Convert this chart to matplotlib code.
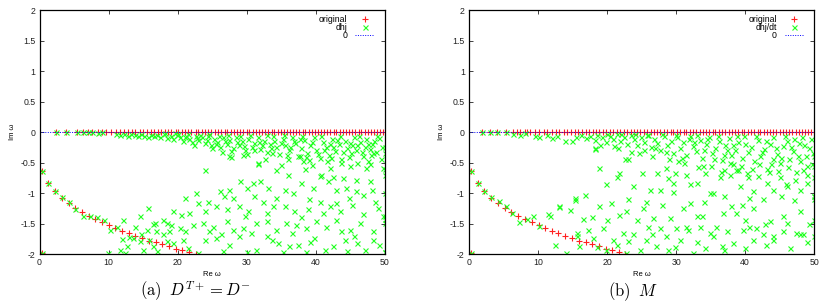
import numpy as np
import matplotlib
matplotlib.use("Agg")
from matplotlib import pyplot as plt

plt.rcParams['font.family'] = ['Liberation Sans', 'DejaVu Sans']
plt.rcParams['mathtext.fontset'] = 'cm'

# ---------------- data ----------------
# "original": eigenvalues on the real axis (x values, y = 0)
orig_real_a = [2.4, 3.9, 5.4, 6.3, 7.0, 7.6, 8.5, 9.0, 9.7, 10.4, 11.1, 11.6, 12.3, 12.8,
               13.4, 13.9, 14.6, 15.0, 15.5, 16.1, 16.6, 17.1, 17.6, 18.2, 18.6, 19.1,
               19.7, 20.1, 20.6, 21.1, 21.5, 22.0, 22.6, 23.0, 23.5, 24.0, 24.4, 24.9,
               25.4, 25.8, 26.3, 26.8, 27.2, 27.7, 28.1, 28.6, 29.0, 29.5, 30.0, 30.4,
               30.9, 31.3, 31.8, 32.2, 32.7, 33.1, 33.6, 34.0, 34.5, 34.9, 35.4, 35.8,
               36.3, 36.7, 37.2, 37.6, 38.1, 38.5, 39.0, 39.4, 39.9, 40.3, 40.8, 41.2,
               41.7, 42.1, 42.6, 43.0, 43.5, 43.9, 44.4, 44.8, 45.3, 45.7, 46.2, 46.6,
               47.1, 47.5, 48.0, 48.4, 48.9, 49.3, 49.8]
orig_real_b = [1.9, 3.1, 4.1, 5.4, 6.4, 6.9, 7.4, 8.1, 8.4, 8.9, 9.6, 10.1, 10.8, 11.3,
               12.0, 12.6, 13.1, 13.7, 14.2, 14.8, 15.3, 15.8, 16.4, 16.9, 17.4, 17.9,
               18.4, 18.9, 19.4, 19.9, 20.4, 20.9, 21.4, 21.9, 22.4, 22.9, 23.4, 23.9,
               24.4, 24.8, 25.3, 25.8, 26.3, 26.8, 27.3, 27.7, 28.2, 28.7, 29.2, 29.6,
               30.1, 30.6, 31.1, 31.5, 32.0, 32.5, 32.9, 33.4, 33.9, 34.3, 34.8, 35.3,
               35.7, 36.2, 36.7, 37.1, 37.6, 38.1, 38.5, 39.0, 39.5, 39.9, 40.4, 40.8,
               41.3, 41.8, 42.2, 42.7, 43.2, 43.6, 44.1, 44.5, 45.0, 45.5, 45.9, 46.4,
               46.8, 47.3, 47.8, 48.2, 48.7, 49.1, 49.6]
# "original": damped branch
orig_curve_x = [0.3, 1.3, 2.2, 3.2, 4.2, 5.2, 6.1, 7.1, 8.1, 9.1, 10.1, 11.0, 12.0,
                12.9, 13.9, 14.9, 15.9, 16.9, 17.8, 18.8, 19.8, 20.7, 21.7, 22.6, 0.3]
orig_curve_y = [-0.64, -0.84, -0.97, -1.08, -1.16, -1.24, -1.31, -1.37, -1.42, -1.48,
                -1.53, -1.58, -1.62, -1.66, -1.70, -1.74, -1.78, -1.81, -1.84, -1.87,
                -1.91, -1.94, -1.97, -2.00, -1.98]

# "dhj" (panel a) as (Re, Im) pairs
dhj_a_curve = [(0.3, -0.64), (1.3, -0.84), (2.2, -0.97), (3.2, -1.07), (4.2, -1.15),
               (5.2, -1.26), (6.3, -1.38), (7.3, -1.37), (8.3, -1.39), (9.3, -1.45),
               (10.2, -1.61), (11.2, -1.55), (0.3, -1.98), (9.9, -1.98)]
dhj_a_band = [(2.4, 0.0), (3.9, 0.0), (5.4, 0.0), (6.3, 0.0), (7.0, 0.0), (7.6, 0.0),
              (8.5, -0.01), (9.0, 0.0), (11.1, -0.03), (11.6, -0.05), (12.3, -0.04),
              (12.8, -0.06), (13.3, -0.03), (13.8, -0.05), (14.2, -0.07), (14.7, -0.04),
              (15.2, -0.06), (15.7, -0.08), (16.2, -0.05), (16.6, -0.07), (17.0, -0.05),
              (17.5, -0.08), (18.0, -0.04), (18.5, -0.10), (19.0, -0.06), (19.4, -0.12),
              (19.9, -0.05), (20.3, -0.09), (20.8, -0.14), (21.2, -0.07), (21.7, -0.11),
              (22.1, -0.16), (22.6, -0.06), (23.0, -0.13), (23.5, -0.09), (23.9, -0.18),
              (24.4, -0.07), (24.8, -0.22), (25.3, -0.12), (25.7, -0.16), (26.2, -0.25),
              (26.6, -0.09), (27.1, -0.19), (27.5, -0.13), (28.0, -0.27), (28.4, -0.08),
              (28.9, -0.21), (29.3, -0.15), (29.8, -0.30), (30.2, -0.11), (30.7, -0.24),
              (31.1, -0.18), (31.6, -0.09), (32.0, -0.28), (32.5, -0.14), (32.9, -0.33),
              (33.4, -0.20), (33.8, -0.07), (34.3, -0.25), (34.7, -0.36), (35.2, -0.12),
              (35.6, -0.22), (36.1, -0.30), (36.5, -0.08), (37.0, -0.18), (37.4, -0.40),
              (37.9, -0.26), (38.3, -0.13), (38.8, -0.34), (39.2, -0.21), (39.7, -0.09),
              (40.1, -0.29), (40.6, -0.42), (41.0, -0.16), (41.5, -0.24), (41.9, -0.37),
              (42.4, -0.11), (42.8, -0.31), (43.3, -0.20), (43.7, -0.45), (44.2, -0.14),
              (44.6, -0.27), (45.1, -0.35), (45.5, -0.09), (46.0, -0.22), (46.4, -0.17),
              (46.9, -0.40), (47.3, -0.12), (47.8, -0.28), (48.2, -0.20), (48.7, -0.33),
              (49.1, -0.10), (49.6, -0.25), (18.2, -0.02), (20.0, -0.03), (21.5, -0.04),
              (23.2, -0.05), (24.6, -0.04), (26.0, -0.06), (27.3, -0.05), (29.0, -0.06),
              (30.5, -0.05), (31.8, -0.16), (33.0, -0.05), (34.0, -0.14), (35.4, -0.05),
              (36.8, -0.15), (38.0, -0.06), (39.5, -0.17), (40.8, -0.06), (42.0, -0.19),
              (43.5, -0.07), (44.9, -0.18), (46.2, -0.06), (47.6, -0.19), (48.9, -0.07),
              (22.4, -0.21), (25.0, -0.26), (27.8, -0.31), (30.0, -0.36), (33.5, -0.27),
              (36.0, -0.44), (39.0, -0.46), (42.5, -0.25), (45.8, -0.30), (48.0, -0.38),
              (27.7, -0.41), (31.6, -0.52), (46.0, -0.50), (47.5, -0.48),
              (19.6, -0.02), (21.0, -0.08), (22.8, -0.10), (24.2, -0.13), (25.5, -0.19),
              (26.9, -0.14), (28.6, -0.17), (29.6, -0.23), (31.0, -0.29), (32.2, -0.21),
              (33.7, -0.35), (34.9, -0.18), (36.3, -0.24), (37.7, -0.11), (38.6, -0.41),
              (40.4, -0.36), (41.2, -0.30), (42.2, -0.42), (43.1, -0.13), (44.0, -0.32),
              (45.3, -0.21), (46.7, -0.33), (47.1, -0.24), (48.5, -0.14), (49.4, -0.44),
              (26.4, -0.33), (29.4, -0.38), (32.7, -0.44), (35.8, -0.38), (38.2, -0.48),
              (41.7, -0.47), (44.8, -0.41), (47.9, -0.52)]
dhj_a_scatter = [(27.5, -0.40), (31.6, -0.51), (34.3, -0.63), (35.0, -0.54), (37.7, -0.40),
                 (39.4, -0.54), (40.6, -0.72), (42.0, -0.59), (42.5, -0.73), (43.7, -0.51),
                 (44.0, -0.75), (45.9, -0.78), (47.3, -0.59), (48.3, -0.34), (49.8, -0.59),
                 (22.7, -1.00), (21.0, -1.08), (26.1, -0.97), (27.5, -0.95), (28.0, -1.08),
                 (30.0, -0.92), (30.9, -0.84), (31.9, -0.81), (33.1, -0.92), (34.3, -1.08),
                 (36.7, -1.00), (37.9, -0.84), (39.6, -0.92), (40.8, -0.70), (41.8, -0.81),
                 (43.0, -1.16), (44.4, -0.92), (45.9, -0.97), (46.9, -1.03), (48.1, -0.95),
                 (48.6, -1.14), (23.0, -1.16), (24.4, -1.14), (25.6, -1.22), (27.1, -1.27),
                 (28.9, -1.22), (30.2, -1.30), (32.4, -1.14), (33.8, -1.22), (35.5, -1.22),
                 (36.9, -1.30), (38.9, -1.27), (40.6, -1.14), (42.0, -1.22), (43.5, -1.30),
                 (45.2, -1.19), (15.7, -1.25), (19.3, -1.30), (20.5, -1.36), (21.7, -1.33),
                 (17.9, -1.44), (16.7, -1.49), (18.4, -1.49), (15.5, -1.60), (16.9, -1.63),
                 (14.7, -1.68), (13.5, -1.74), (14.5, -1.79), (15.9, -1.77), (17.9, -1.68),
                 (18.8, -1.63), (20.3, -1.57), (22.2, -1.52), (23.7, -1.49), (25.1, -1.55),
                 (27.1, -1.46), (28.0, -1.60), (29.5, -1.57), (31.4, -1.49), (32.9, -1.46),
                 (34.3, -1.60), (35.7, -1.49), (37.2, -1.52), (38.6, -1.57), (40.1, -1.46),
                 (41.5, -1.55), (43.0, -1.44), (44.9, -1.60), (46.4, -1.49), (48.3, -1.63),
                 (11.6, -1.93), (12.6, -1.87), (15.0, -1.93), (16.4, -1.87), (19.3, -1.82),
                 (20.8, -1.77), (22.9, -1.98), (23.9, -1.77), (25.6, -1.74), (27.5, -1.85),
                 (28.9, -1.71), (30.0, -1.96), (31.4, -1.93), (32.9, -1.71), (34.5, -1.82),
                 (36.2, -1.87), (37.4, -1.85), (38.6, -1.96), (39.8, -1.74), (41.3, -1.93),
                 (42.5, -1.87), (44.2, -1.77), (45.6, -1.71), (47.1, -1.93), (48.3, -1.77),
                 (12.1, -1.45), (13.0, -1.72), (14.5, -1.37), (16.4, -1.50), (12.4, -1.98),
                 (50.0, -0.25), (50.0, -0.35), (50.0, -0.60), (50.0, -0.70), (50.0, -1.00),
                 (50.0, -1.37), (50.0, -1.42), (50.0, -1.97), (49.8, -1.38), (50.0, -1.49),
                 (50.0, -1.96),
                 (24.0, -0.62), (36.0, -0.70), (45.0, -0.55), (38.5, -0.60), (29.0, -0.80),
                 (43.0, -0.95), (47.8, -0.80), (26.7, -1.05), (31.0, -1.05), (35.5, -0.95),
                 (39.0, -1.10), (44.8, -1.08), (49.0, -1.25), (24.0, -1.30), (29.8, -1.37),
                 (33.0, -1.33), (37.8, -1.40), (41.0, -1.33), (46.9, -1.35), (19.0, -1.52),
                 (21.0, -1.63), (24.6, -1.62), (26.3, -1.68), (30.6, -1.65), (33.7, -1.77),
                 (36.5, -1.65), (39.2, -1.80), (43.6, -1.62), (46.0, -1.82), (49.2, -1.85),
                 (13.9, -1.55), (17.0, -1.95), (21.5, -1.90), (26.5, -1.95), (35.2, -1.97),
                 (44.6, -1.95), (11.9, -1.75), (18.5, -1.78)]

# "dhj/dt" (panel b) as (Re, Im) pairs
dhjdt_b_curve = [(0.3, -0.64), (1.3, -0.84), (2.2, -0.97), (3.2, -1.07), (4.3, -1.13),
                 (5.3, -1.21), (6.2, -1.33), (7.2, -1.48), (8.4, -1.42), (9.3, -1.37),
                 (10.2, -1.54), (11.5, -1.34), (0.3, -1.98)]
dhjdt_b_band = [(1.9, 0.0), (3.1, 0.0), (4.1, 0.0), (5.4, 0.0), (6.4, -0.03), (7.4, -0.05),
                (8.1, -0.02), (9.5, -0.06), (10.2, -0.08), (11.3, -0.05), (12.0, -0.10),
                (12.8, -0.06), (13.9, -0.15), (14.9, -0.15), (15.5, -0.08), (16.2, -0.05),
                (16.9, -0.10), (17.5, -0.07), (18.2, -0.13), (18.6, -0.05), (19.3, -0.09),
                (19.8, -0.16), (20.4, -0.06), (20.9, -0.11), (21.4, -0.04), (21.9, -0.14),
                (22.5, -0.08), (22.9, -0.19), (23.4, -0.05), (23.9, -0.12), (24.4, -0.22),
                (24.9, -0.09), (25.4, -0.16), (25.8, -0.05), (26.3, -0.25), (26.8, -0.11),
                (27.3, -0.18), (27.7, -0.30), (28.2, -0.07), (28.7, -0.21), (29.2, -0.14),
                (29.6, -0.34), (30.1, -0.09), (30.6, -0.26), (31.0, -0.17), (31.5, -0.38),
                (32.0, -0.06), (32.4, -0.23), (32.9, -0.31), (33.4, -0.13), (33.8, -0.42),
                (34.3, -0.20), (34.8, -0.08), (35.2, -0.35), (35.7, -0.27), (36.2, -0.15),
                (36.6, -0.46), (37.1, -0.22), (37.6, -0.10), (38.0, -0.38), (38.5, -0.29),
                (39.0, -0.17), (39.4, -0.55), (39.9, -0.07), (40.4, -0.33), (40.8, -0.24),
                (41.3, -0.48), (41.8, -0.13), (42.2, -0.40), (42.7, -0.28), (43.2, -0.60),
                (43.6, -0.19), (44.1, -0.09), (44.6, -0.36), (45.0, -0.50), (45.5, -0.23),
                (46.0, -0.14), (46.4, -0.44), (46.9, -0.31), (47.4, -0.65), (47.8, -0.18),
                (48.3, -0.08), (48.8, -0.39), (49.2, -0.27), (49.7, -0.52), (20.0, -0.03),
                (22.0, -0.04), (24.0, -0.04), (26.0, -0.05), (28.0, -0.04), (30.0, -0.05),
                (31.8, -0.12), (33.0, -0.05), (34.5, -0.12), (36.0, -0.06), (37.3, -0.30),
                (38.8, -0.07), (40.0, -0.20), (41.5, -0.06), (43.0, -0.15), (44.4, -0.26),
                (45.8, -0.07), (47.0, -0.12), (48.5, -0.22), (49.5, -0.11), (35.0, -0.55),
                (37.0, -0.62), (40.2, -0.68), (42.0, -0.52), (44.0, -0.45), (46.2, -0.58),
                (48.0, -0.47), (49.0, -0.70), (23.5, -0.32), (26.5, -0.40), (29.0, -0.45),
                (31.2, -0.50), (33.2, -0.58), (36.5, -0.66), (38.3, -0.52), (18.3, -0.27),
                (21.0, -0.23), (25.3, -0.30),
                (19.0, -0.21), (21.6, -0.27), (24.6, -0.35), (27.0, -0.26), (28.5, -0.33),
                (30.8, -0.42), (32.6, -0.16), (34.0, -0.30), (35.5, -0.45), (36.9, -0.38),
                (38.2, -0.21), (39.6, -0.42), (41.0, -0.60), (42.4, -0.33), (43.8, -0.52),
                (45.2, -0.42), (46.6, -0.25), (47.6, -0.40), (48.9, -0.56), (49.8, -0.35),
                (41.9, -0.72), (44.8, -0.64), (47.2, -0.78), (39.0, -0.62), (37.8, -0.70),
                (34.2, -0.68), (45.9, -0.85), (43.5, -0.66)]
dhjdt_b_scatter = [(18.9, -0.59), (18.2, -0.28), (19.9, -0.86), (21.4, -0.73), (21.8, -0.67),
                   (22.6, -0.45), (23.0, -0.45), (23.8, -0.89), (25.0, -0.67), (26.2, -0.95),
                   (27.2, -0.67), (27.6, -0.95), (28.6, -0.59), (28.8, -0.75), (29.6, -0.84),
                   (29.8, -0.67), (30.3, -0.48), (31.5, -0.70), (32.0, -0.86), (33.0, -0.84),
                   (33.9, -0.56), (34.9, -1.00), (35.4, -1.00), (36.3, -0.73), (37.8, -0.51),
                   (38.7, -0.62), (39.2, -0.89), (40.4, -0.73), (40.6, -1.08), (41.2, -0.97),
                   (43.1, -0.84), (44.1, -0.95), (45.0, -0.73), (46.0, -0.89), (47.0, -1.11),
                   (47.9, -0.95), (48.4, -0.62), (48.9, -0.84), (49.9, -1.05), (50.0, -0.73),
                   (15.3, -1.08), (13.1, -1.22), (11.7, -1.38), (16.8, -1.03), (18.9, -1.22),
                   (20.6, -1.16), (21.8, -1.36), (22.8, -1.30), (24.3, -1.44), (25.7, -1.14),
                   (26.7, -1.41), (27.6, -1.57), (29.1, -1.41), (30.0, -1.57), (31.5, -1.55),
                   (32.0, -1.16), (33.0, -1.38), (33.7, -1.38), (34.9, -1.66), (35.8, -1.55),
                   (36.8, -1.33), (38.0, -1.22), (38.7, -1.33), (40.0, -1.44), (41.2, -1.25),
                   (41.6, -1.57), (43.6, -1.46), (44.1, -1.77), (45.5, -1.38), (46.0, -1.49),
                   (47.4, -1.66), (48.4, -1.68), (50.0, -1.44), (50.0, -1.71), (12.4, -1.85),
                   (15.6, -1.66), (16.0, -1.87), (17.2, -1.60), (18.0, -1.74), (19.4, -1.57),
                   (19.9, -1.93), (20.9, -1.77), (22.3, -1.66), (23.0, -1.79), (23.8, -1.68),
                   (24.7, -1.93), (25.7, -1.77), (27.1, -1.87), (28.8, -1.93), (30.5, -1.77),
                   (31.7, -1.60), (32.5, -1.98), (34.2, -1.90), (35.4, -1.71), (36.6, -1.87),
                   (38.3, -1.82), (39.7, -1.60), (41.2, -1.77), (42.6, -1.68), (44.1, -1.71),
                   (47.9, -1.68), (14.1, -1.98), (22.8, -1.98), (13.0, -1.23), (14.6, -1.28),
                   (15.4, -1.11), (16.5, -1.43), (15.6, -1.70), (50.0, -0.40), (50.0, -0.55),
                   (50.0, -1.05), (50.0, -1.10),
                   (31.0, -1.25), (34.0, -1.15), (37.0, -1.05), (39.5, -1.20), (42.6, -1.10),
                   (45.2, -1.05), (48.0, -1.30), (23.0, -1.10), (25.2, -1.25), (28.0, -1.20),
                   (29.6, -0.99), (17.8, -1.40), (20.0, -1.45), (26.0, -1.55), (28.5, -1.70),
                   (33.5, -1.55), (37.4, -1.62), (40.5, -1.55), (42.9, -1.50), (45.5, -1.62),
                   (49.2, -1.50), (18.6, -1.88), (21.5, -1.85), (26.5, -1.68), (29.8, -1.88),
                   (33.0, -1.80), (37.0, -1.93), (40.0, -1.90), (43.0, -1.85), (46.5, -1.90),
                   (49.0, -1.80)]

panels = [
    ("dhj", orig_real_a, dhj_a_curve + dhj_a_band + dhj_a_scatter,
     r"$\mathrm{(a)}\;\; D^{T+} = D^{-}$", 0.236),
    ("dhj/dt", orig_real_b, dhjdt_b_curve + dhjdt_b_band + dhjdt_b_scatter,
     r"$\mathrm{(b)}\;\; M$", 0.762),
]

fig = plt.figure(figsize=(8.3, 3.05), dpi=100)
lefts = [0.0476, 0.565]
ytick_vals = [-2, -1.5, -1, -0.5, 0, 0.5, 1, 1.5, 2]
ytick_labels = ["-2", "-1.5", "-1", "-0.5", "0", "0.5", "1", "1.5", "2"]

for (green_label, real_x, green_pts, caption, cap_x), left in zip(panels, lefts):
    ax = fig.add_axes([left, 0.1672, 0.416, 0.800])
    ox = np.concatenate([real_x, orig_curve_x])
    oy = np.concatenate([np.zeros(len(real_x)), orig_curve_y])
    g = np.array(green_pts)
    ax.plot(ox, oy, linestyle="none", marker="+", color="#ff2020", markersize=4.5,
            markeredgewidth=0.8, label="original")
    ax.plot(g[:, 0], g[:, 1], linestyle="none", marker="x", color="#22ff22",
            markersize=3.6, markeredgewidth=0.8, label=green_label)
    ax.plot([0, 50], [0, 0], linestyle=(0, (1, 1.5)), color="#0000ff", linewidth=0.7,
            label="0")
    ax.set_xlim(0, 50)
    ax.set_ylim(-2, 2)
    ax.set_xticks([0, 10, 20, 30, 40, 50])
    ax.set_yticks(ytick_vals)
    ax.set_yticklabels(ytick_labels)
    ax.tick_params(direction="in", length=3, width=0.6, labelsize=6.3,
                   top=True, right=True, pad=3, colors="#222222")
    for s in ax.spines.values():
        s.set_linewidth(0.9)
    ax.set_xlabel("Re ω", fontsize=5.5, labelpad=3)
    ax.set_ylabel("Im ω", fontsize=5.5, labelpad=3)
    ax.legend(loc="upper right", markerfirst=False, frameon=False, fontsize=6.3,
              handlelength=2.2, handletextpad=0.9, labelspacing=-0.15,
              borderaxespad=0.2, bbox_to_anchor=(0.985, 1.0))
    fig.text(cap_x, 0.045, caption, fontsize=12, ha="center", va="center")

fig.savefig("out.png", dpi=100)
